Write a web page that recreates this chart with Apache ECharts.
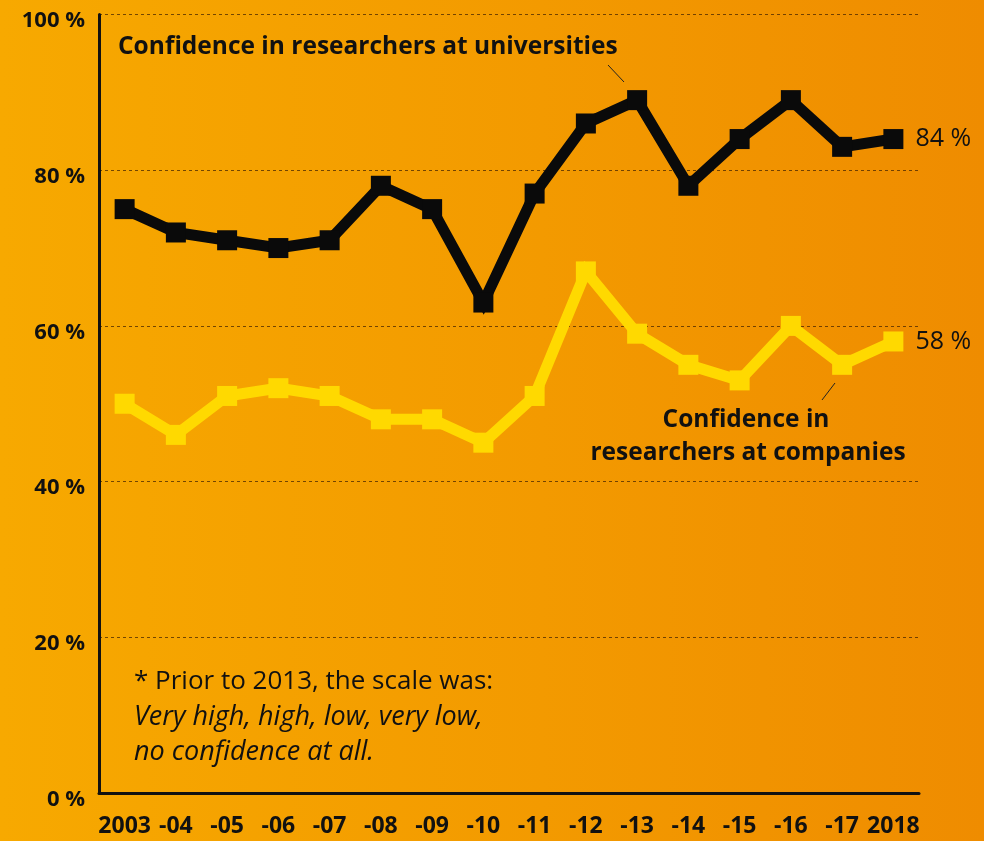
<!DOCTYPE html>
<html>
<head>
<meta charset="utf-8">
<script src="https://cdn.jsdelivr.net/npm/echarts@6/dist/echarts.min.js"></script>
<style>
html,body{margin:0;padding:0;}
#c{width:984px;height:841px;background:linear-gradient(to right,#F7A900 0%,#F39A00 55%,#EF8C00 100%);}
</style>
</head>
<body>
<div id="c"></div>
<script>
const categories = ['2003','-04','-05','-06','-07','-08','-09','-10','-11','-12','-13','-14','-15','-16','-17','2018'];
const universities = [75,72,71,70,71,78,75,63,77,86,89,78,84,89,83,84];
const companies = [50,46,51,52,51,48,48,45,51,67,59,55,53,60,55,58];
const yTicks = [0,20,40,60,80,100];

const FONT = '"Open Sans", "Noto Sans", sans-serif';
const chart = echarts.init(document.getElementById('c'), null, {renderer:'canvas'});

function endLbl(){
  return {show:true, formatter: p => p.value + ' %', color:'#111', fontFamily:FONT, fontSize:25, fontWeight:500, distance:22};
}

chart.setOption({
  backgroundColor:'transparent',
  animation:false,
  grid:{left:99, right:65, top:14.5, bottom:48, containLabel:false},
  xAxis:{
    type:'category', data:categories, boundaryGap:true,
    axisLine:{show:true, lineStyle:{color:'#111', width:3}},
    axisTick:{show:false},
    axisLabel:{color:'#111', fontFamily:FONT, fontWeight:'bold', fontSize:23, margin:22, interval:0},
    splitLine:{show:false}
  },
  yAxis:{
    type:'value', min:0, max:100, interval:20,
    axisLine:{show:true, lineStyle:{color:'#111', width:3}},
    axisTick:{show:false},
    axisLabel:{color:'#111', margin:14,
      formatter: v => '{a|' + v + ' %}',
      rich:{a:{fontFamily:FONT, fontWeight:'bold', fontSize:22, color:'#111', padding:[13,0,0,0]}}},
    splitLine:{show:true, lineStyle:{color:'rgba(60,30,0,0.7)', width:1, type:[3,3]}}
  },
  series:[
    {
      name:'universities', type:'line', data:universities,
      symbol:'rect', symbolSize:20, showAllSymbol:true,
      lineStyle:{color:'#0a0a0a', width:11, join:'miter'},
      itemStyle:{color:'#0a0a0a'},
      endLabel:endLbl(), z:3
    },
    {
      name:'companies', type:'line', data:companies,
      symbol:'rect', symbolSize:20, showAllSymbol:true,
      lineStyle:{color:'#FFD900', width:11, join:'miter'},
      itemStyle:{color:'#FFD900'},
      endLabel:endLbl(), z:2
    }
  ],
  graphic:[
    {type:'text', x:118, y:47, style:{text:'Confidence in researchers at universities', fill:'#111', font:'bold 24.5px '+FONT, verticalAlign:'middle'}},
    {type:'line', shape:{x1:608, y1:65, x2:624, y2:82}, style:{stroke:'#222', lineWidth:1}},
    {type:'text', x:746, y:420, style:{text:'Confidence in', fill:'#111', font:'bold 24.5px '+FONT, align:'center', verticalAlign:'middle'}},
    {type:'text', x:748, y:453, style:{text:'researchers at companies', fill:'#111', font:'bold 24.5px '+FONT, align:'center', verticalAlign:'middle'}},
    {type:'line', shape:{x1:822, y1:400, x2:835, y2:383}, style:{stroke:'#222', lineWidth:1}},
    {type:'text', x:134, y:682, style:{text:'* Prior to 2013, the scale was:', fill:'#111', font:'26px '+FONT, verticalAlign:'middle'}},
    {type:'text', x:134, y:717, style:{text:'Very high, high, low, very low,', fill:'#111', font:'italic 27px '+FONT, verticalAlign:'middle'}},
    {type:'text', x:134, y:752, style:{text:'no confidence at all.', fill:'#111', font:'italic 27px '+FONT, verticalAlign:'middle'}}
  ]
});
</script>
</body>
</html>
